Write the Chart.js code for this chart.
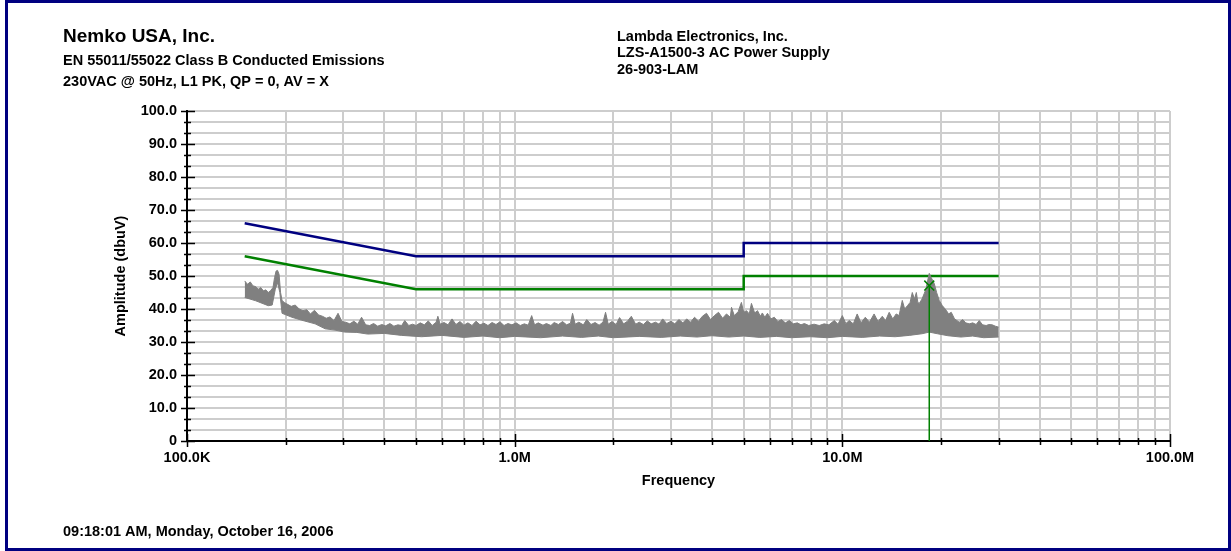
<!DOCTYPE html>
<html>
<head>
<meta charset="utf-8">
<script src="https://cdn.jsdelivr.net/npm/chart.js@4/dist/chart.umd.min.js"></script>
<style>
  html, body { margin: 0; padding: 0; background: #fff; }
  canvas { display: block; }
</style>
</head>
<body>
<canvas id="emiChart" width="1231" height="551" style="width:1231px;height:551px"></canvas>
<script>
// Limites EN 55011/55022 Classe B (MHz, dBuV)
const qpLimitFreq = [0.15, 0.5, 5, 5, 30];
const qpLimitAmp = [66, 56, 56, 60, 60];
const avLimitFreq = [0.15, 0.5, 5, 5, 30];
const avLimitAmp = [56, 46, 46, 50, 50];

// Varredura PK - envelope superior (MHz, dBuV)
const traceUpperFreq = [
  0.150, 0.153, 0.156, 0.159, 0.162, 0.165, 0.168, 0.171, 0.174, 0.177,
  0.180, 0.183, 0.185, 0.187, 0.189, 0.191, 0.193, 0.195, 0.198,
  0.202, 0.208, 0.214, 0.220, 0.226, 0.232, 0.238, 0.245, 0.252, 0.259,
  0.266, 0.273, 0.281, 0.289, 0.297, 0.305, 0.314, 0.323, 0.332, 0.341,
  0.351, 0.361, 0.371, 0.382, 0.393, 0.404, 0.416, 0.428, 0.440, 0.452,
  0.462, 0.475, 0.488, 0.500,
  0.515, 0.530, 0.545, 0.560, 0.576, 0.583, 0.592, 0.609, 0.626, 0.644,
  0.662, 0.681, 0.700, 0.720, 0.741, 0.762, 0.784, 0.806, 0.829, 0.853,
  0.877, 0.902, 0.928, 0.954, 0.981, 1.01, 1.04, 1.07, 1.10, 1.127,
  1.15, 1.18, 1.22, 1.25, 1.29, 1.32, 1.36, 1.40, 1.44, 1.48,
  1.502, 1.53, 1.57, 1.62, 1.66, 1.71, 1.76, 1.81, 1.86, 1.894,
  1.93, 1.98, 2.04, 2.09, 2.15, 2.21, 2.27, 2.34, 2.40, 2.47,
  2.54, 2.61, 2.69, 2.76, 2.83, 2.91, 3.00, 3.08, 3.17, 3.26,
  3.35, 3.44, 3.54, 3.64, 3.74, 3.85, 3.96, 4.07, 4.19, 4.31,
  4.43, 4.55, 4.59, 4.68, 4.81, 4.92, 5.00,
  5.10, 5.20, 5.28, 5.40, 5.51, 5.62, 5.70, 5.80, 5.91, 6.05,
  6.20, 6.36, 6.52, 6.70, 6.89, 7.08, 7.29, 7.48, 7.66, 7.90,
  8.20, 8.50, 8.80, 9.10, 9.45, 9.70, 10.0, 10.25, 10.5, 10.8,
  11.1, 11.4, 11.75, 12.1, 12.5, 12.85, 13.24, 13.55, 13.9, 14.25,
  14.6, 14.9, 15.24, 15.5, 15.8, 16.1, 16.35, 16.6, 16.82, 17.0,
  17.17, 17.5, 17.78, 18.0, 18.16, 18.42, 18.68, 19.08, 19.4, 19.76,
  20.2, 20.76, 21.1, 21.5, 22.0, 22.74, 23.3, 23.8, 24.4, 25.0,
  25.6, 26.17, 26.8, 27.48, 28.0, 28.67, 29.3, 30.0];
const traceUpperAmp = [
  48.5, 47.5, 48.2, 47.0, 46.8, 46.0, 46.5, 45.5, 45.8, 45.0,
  45.6, 46.5, 49.5, 51.5, 51.7, 50.5, 45.0, 42.6, 42.0,
  41.5, 40.8, 41.2, 40.0, 39.5, 39.8, 38.5, 39.6, 38.2, 37.8,
  37.2, 37.6, 36.5, 38.7, 36.2, 36.0, 35.5, 36.3, 35.4, 37.5,
  35.2, 35.0, 35.6, 34.8, 35.3, 34.9, 35.6, 34.8, 35.2, 35.0,
  36.5, 35.0, 35.4, 35.0,
  35.8, 35.2, 36.4, 35.0, 36.0, 37.8, 35.4, 35.9, 35.2, 37.0,
  35.3, 36.2, 35.1, 35.8, 35.0, 36.3, 35.2, 35.7, 35.0, 35.9,
  35.3, 36.1, 35.0, 35.6, 35.2, 35.8, 35.0, 35.5, 35.1, 38.0,
  35.2, 35.8, 35.1, 35.6, 35.0, 35.9, 35.3, 36.2, 35.2, 35.7,
  38.7, 35.4, 36.0, 35.2, 36.8, 35.3, 35.9, 35.1, 36.0, 39.0,
  35.4, 36.2, 35.3, 37.4, 35.5, 36.3, 37.8, 35.4, 36.0, 35.3,
  36.4, 35.5, 36.0, 35.4, 37.0, 35.6, 36.3, 35.5, 36.8, 35.8,
  37.0, 36.0, 37.5, 36.3, 37.8, 38.7, 36.8, 38.0, 39.0, 37.2,
  38.5, 37.5, 40.5, 38.0, 39.2, 42.0, 39.0,
  39.5, 38.5, 41.7, 38.8, 39.5, 37.8, 38.8, 37.5, 38.7, 37.0,
  37.5, 36.2, 36.8, 35.8, 36.5, 35.5, 35.8, 35.2, 35.6, 35.0,
  35.4, 35.0, 35.5, 35.2, 36.5, 35.4, 38.0, 35.6, 36.5, 35.5,
  38.5, 35.8, 37.5, 36.0, 38.5, 36.2, 37.8, 36.5, 39.0, 37.0,
  38.5, 38.0, 42.6, 40.0, 41.0, 42.0, 45.0, 43.0, 45.0, 42.0,
  41.7, 43.0, 44.7, 46.0, 48.0, 50.8, 49.5, 47.7, 45.0, 42.6,
  41.0, 39.6, 38.5, 39.0, 37.0, 36.0, 36.8, 35.8, 35.5, 35.8,
  35.3, 36.5, 35.2, 35.0, 35.3, 35.2, 34.8, 34.5];

// Varredura PK - envelope inferior (MHz, dBuV)
const traceLowerFreq = [
  0.150, 0.162, 0.177, 0.182, 0.186, 0.189, 0.192, 0.195, 0.209, 0.224,
  0.246, 0.264, 0.283, 0.303, 0.330, 0.356, 0.400, 0.452, 0.520, 0.600,
  0.700, 0.800, 0.900, 1.00, 1.20, 1.40, 1.60, 1.80, 2.00, 2.40,
  2.80, 3.20, 3.60, 4.00, 4.50, 5.00, 5.60, 6.30, 7.00, 8.00,
  9.00, 10.0, 11.5, 13.0, 14.5, 16.0, 17.5, 18.42, 19.5, 21.0,
  23.0, 25.0, 27.0, 30.0];
const traceLowerAmp = [
  43.5, 42.5, 41.0, 41.2, 46.0, 48.0, 45.0, 38.7, 37.5, 36.6,
  35.5, 34.0, 33.6, 33.0, 32.9, 32.4, 32.6, 32.0, 31.6, 32.0,
  31.4, 31.8, 31.3, 31.7, 31.3, 31.8, 31.4, 31.8, 31.3, 31.7,
  31.4, 31.8, 31.5, 31.9, 31.5, 31.8, 31.4, 31.7, 31.3, 31.6,
  31.3, 31.7, 31.4, 31.8, 31.6, 32.0, 32.5, 33.0, 32.5, 31.9,
  31.5, 31.8, 31.3, 31.5];

// Marcador (MHz, dBuV)
const markerFreq = [18.42];
const markerAmp = [47.1];

// Eixos
const xDecades = [0.1, 1, 10, 100];
const xTickLabels = ['100.0K', '1.0M', '10.0M', '100.0M'];
const yTickValues = [0, 10, 20, 30, 40, 50, 60, 70, 80, 90, 100];
const yTickLabels = ['0', '10.0', '20.0', '30.0', '40.0', '50.0', '60.0', '70.0', '80.0', '90.0', '100.0'];

const toPoints = (fs, as) => fs.map((f, i) => ({ x: f, y: as[i] }));
const isDecade = v => xDecades.some(d => Math.abs(v - d) / d < 1e-6);
const FONT = '"Liberation Sans", Arial, sans-serif';

// Textos, moldura e marcas dos eixos
const decorPlugin = {
    id: 'decor',
    afterDraw(chart) {
        const ctx = chart.ctx;
        const xs = chart.scales.x, ys = chart.scales.y;
        const area = chart.chartArea;
        ctx.save();

        // marcas dos eixos
        ctx.strokeStyle = '#000';
        ctx.lineWidth = 1.5;
        ctx.beginPath();
        xs.ticks.forEach(t => {
            const px = Math.round(xs.getPixelForValue(t.value)) + 0.5;
            const major = isDecade(t.value);
            ctx.moveTo(px, area.bottom - (major ? 7 : 3));
            ctx.lineTo(px, area.bottom + (major ? 6 : 4));
        });
        ys.ticks.forEach((t, i) => {
            const py = Math.round(ys.getPixelForValue(t.value)) + 0.5;
            const major = i % 3 === 0;
            ctx.moveTo(area.left - (major ? 6 : 3), py);
            ctx.lineTo(area.left + (major ? 8 : 4), py);
        });
        ctx.stroke();

        // textos
        ctx.fillStyle = '#000';
        ctx.textBaseline = 'alphabetic';
        ctx.textAlign = 'left';
        ctx.font = 'bold 19px ' + FONT;
        ctx.fillText('Nemko USA, Inc.', 63, 42);
        ctx.font = 'bold 14.5px ' + FONT;
        ctx.fillText('EN 55011/55022 Class B Conducted Emissions', 63, 65);
        ctx.fillText('230VAC @ 50Hz, L1 PK, QP = 0, AV = X', 63, 86);
        ctx.fillText('Lambda Electronics, Inc.', 617, 41);
        ctx.fillText('LZS-A1500-3 AC Power Supply', 617, 57);
        ctx.fillText('26-903-LAM', 617, 74);
        ctx.fillText('09:18:01 AM, Monday, October 16, 2006', 63, 536);
        ctx.textAlign = 'center';
        ctx.fillText('Frequency', (area.left + area.right) / 2, 485);
        ctx.translate(125, (area.top + area.bottom) / 2);
        ctx.rotate(-Math.PI / 2);
        ctx.fillText('Amplitude (dbuV)', 0, 0);
        ctx.restore();

        // moldura
        ctx.save();
        ctx.strokeStyle = '#000080';
        ctx.lineWidth = 3;
        ctx.strokeRect(6.5, 1.5, 1223, 548);
        ctx.restore();
    }
};

const ctx = document.getElementById('emiChart').getContext('2d');
const emiChart = new Chart(ctx, {
    type: 'line',
    data: {
        datasets: [
            {
                label: 'Marker',
                data: toPoints(markerFreq, markerAmp),
                showLine: false,
                pointStyle: 'crossRot',
                pointRadius: 7,
                pointBorderColor: '#008000',
                pointBorderWidth: 1.5,
                borderColor: '#008000'
            },
            {
                label: 'Marker line',
                data: [{ x: markerFreq[0], y: markerAmp[0] }, { x: markerFreq[0], y: 0 }],
                borderColor: '#008000',
                borderWidth: 1.5
            },
            {
                label: 'PK upper',
                data: toPoints(traceUpperFreq, traceUpperAmp),
                borderColor: '#808080',
                backgroundColor: '#808080',
                borderWidth: 1,
                fill: '+1'
            },
            {
                label: 'PK lower',
                data: toPoints(traceLowerFreq, traceLowerAmp),
                borderColor: '#808080',
                borderWidth: 1
            },
            {
                label: 'AV limit',
                data: toPoints(avLimitFreq, avLimitAmp),
                borderColor: '#008000', // verde
                borderWidth: 2.5
            },
            {
                label: 'QP limit',
                data: toPoints(qpLimitFreq, qpLimitAmp),
                borderColor: '#000080', // azul marinho
                borderWidth: 2.5
            }
        ]
    },
    options: {
        responsive: false,
        animation: false,
        elements: {
            point: { radius: 0, hoverRadius: 0 },
            line: { tension: 0, fill: false }
        },
        layout: { padding: { left: 0, top: 111, right: 61, bottom: 0 } },
        plugins: {
            legend: { display: false },
            tooltip: { enabled: false },
            title: { display: false }
        },
        scales: {
            x: {
                type: 'logarithmic',
                min: 0.1,
                max: 100,
                afterBuildTicks: scale => {
                    const t = [];
                    xDecades.slice(0, 3).forEach(d => {
                        for (let k = 1; k <= 9; k++) t.push({ value: d * k });
                    });
                    t.push({ value: 100 });
                    scale.ticks = t;
                },
                afterFit: scale => { scale.height = 110; },
                grid: { color: '#cdcdcd', lineWidth: 2, drawTicks: false },
                border: { display: true, color: '#000', width: 2 },
                ticks: {
                    autoSkip: false,
                    maxRotation: 0,
                    padding: 8,
                    color: '#000',
                    font: { family: FONT, size: 14.5, weight: 'bold' },
                    callback: value => {
                        const i = xDecades.findIndex(d => Math.abs(value - d) / d < 1e-6);
                        return i >= 0 ? xTickLabels[i] : '';
                    }
                }
            },
            y: {
                min: 0,
                max: 100,
                afterBuildTicks: scale => {
                    const t = [];
                    for (let i = 0; i < yTickValues.length - 1; i++) {
                        const a = yTickValues[i], b = yTickValues[i + 1];
                        t.push({ value: a }, { value: a + (b - a) / 3 }, { value: a + 2 * (b - a) / 3 });
                    }
                    t.push({ value: yTickValues[yTickValues.length - 1] });
                    scale.ticks = t;
                },
                afterFit: scale => { scale.width = 187; },
                grid: { color: '#cdcdcd', lineWidth: 2, drawTicks: false },
                border: { display: true, color: '#000', width: 2 },
                ticks: {
                    autoSkip: false,
                    padding: 10,
                    color: '#000',
                    font: { family: FONT, size: 14.5, weight: 'bold' },
                    callback: (value, index) => index % 3 === 0 ? yTickLabels[index / 3] : ''
                }
            }
        }
    },
    plugins: [decorPlugin]
});
</script>
</body>
</html>
